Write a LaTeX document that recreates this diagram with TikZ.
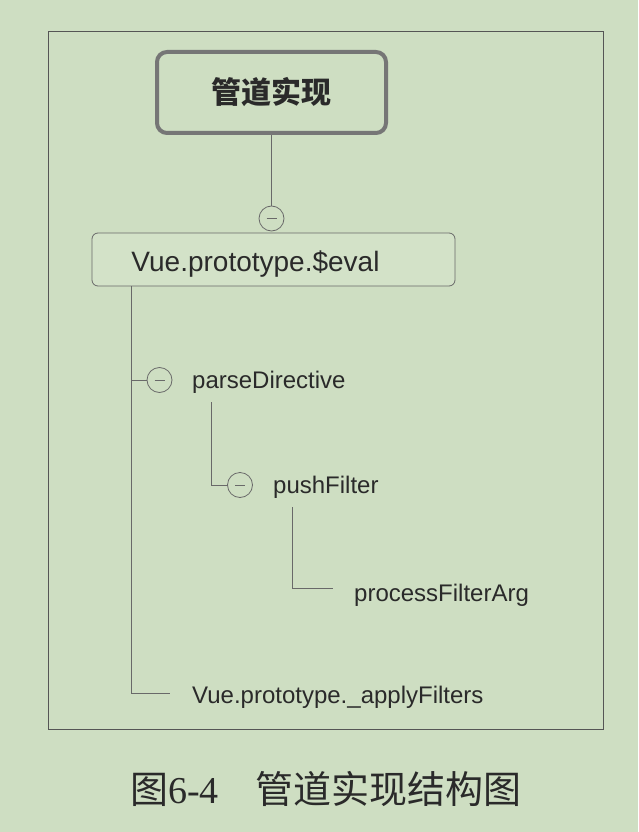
\documentclass[tikz,border=0pt]{standalone}
\usepackage{fontspec}
\setmainfont{Liberation Sans}
\newfontfamily\cjk{Noto Sans CJK SC}
\newfontfamily\serifnum{Liberation Serif}
\definecolor{bg}{RGB}{206,222,194}
\definecolor{boxfill}{RGB}{211,226,200}
\definecolor{ink}{RGB}{42,42,42}
\definecolor{linec}{RGB}{105,105,105}
\definecolor{framec}{RGB}{85,85,85}
\definecolor{rootc}{RGB}{118,118,118}
\tikzset{
  conn/.style={draw=linec, line width=0.8pt},
  rootbox/.style={draw=rootc, line width=4pt, rounded corners=10pt, minimum width=229pt, minimum height=81pt, inner sep=0pt, text=ink, font=\cjk\bfseries\fontsize{30}{30}\selectfont},
  evalbox/.style={draw=linec, line width=0.8pt, fill=boxfill, rounded corners=6pt, minimum width=363pt, minimum height=53pt, inner sep=0pt, text height=24pt, text depth=0pt, text=ink, font=\fontsize{28}{28}\selectfont},
  toggle/.style={circle, draw=linec, line width=0.8pt, minimum size=25pt, inner sep=0pt,
    path picture={\draw[linec, line width=0.6pt] ([xshift=-5pt]path picture bounding box.center) -- ([xshift=5pt]path picture bounding box.center);}},
  leaf/.style={anchor=west, inner sep=0pt, text=ink, font=\fontsize{24}{24}\selectfont},
}
\begin{document}
\begin{tikzpicture}[x=1pt,y=-1pt]
\fill[bg] (0,0) rectangle (638,832);
\useasboundingbox (0,0) rectangle (638,832);
\draw[framec, line width=1pt] (48,32) rectangle (603,729);

\node[rootbox] (root) at (271.5,92.5) {管道实现};
\node[toggle] (c1) at (271.5,218.5) {};
\node[evalbox] (eval) at (273.5,259.5) {Vue.prototype.\$eval\hspace*{36pt}};

\node[toggle] (c2) at (159.5,380) {};
\node[leaf] (parse) at (192,382.5) {parseDirective};
\node[toggle] (c3) at (240,485) {};
\node[leaf] (push) at (273,487) {pushFilter};
\node[leaf] (proc) at (354,595) {processFilterArg};
\node[leaf] (apply) at (192,697) {Vue.prototype.\_applyFilters};

\coordinate (trunk) at (131,0);
\coordinate (k1) at (170,693);
\coordinate (s1) at (211,402);
\coordinate (s2) at (292,507);
\coordinate (e2) at (333,588);

\draw[conn] (root.south) -- (c1.north);
\draw[conn] (eval.south -| trunk) |- (k1);
\draw[conn] (c2.west) -- (c2.west -| trunk);
\draw[conn] (s1) |- (c3.west);
\draw[conn] (s2) |- (e2);

\node[anchor=west, inner sep=0pt, text=ink] (cap) at (130,789)
  {{\cjk\fontsize{38}{38}\selectfont 图}{\serifnum\fontsize{38}{38}\selectfont 6-4}\hspace*{37pt}{\cjk\fontsize{38}{38}\selectfont 管道实现结构图}};
\end{tikzpicture}
\end{document}
